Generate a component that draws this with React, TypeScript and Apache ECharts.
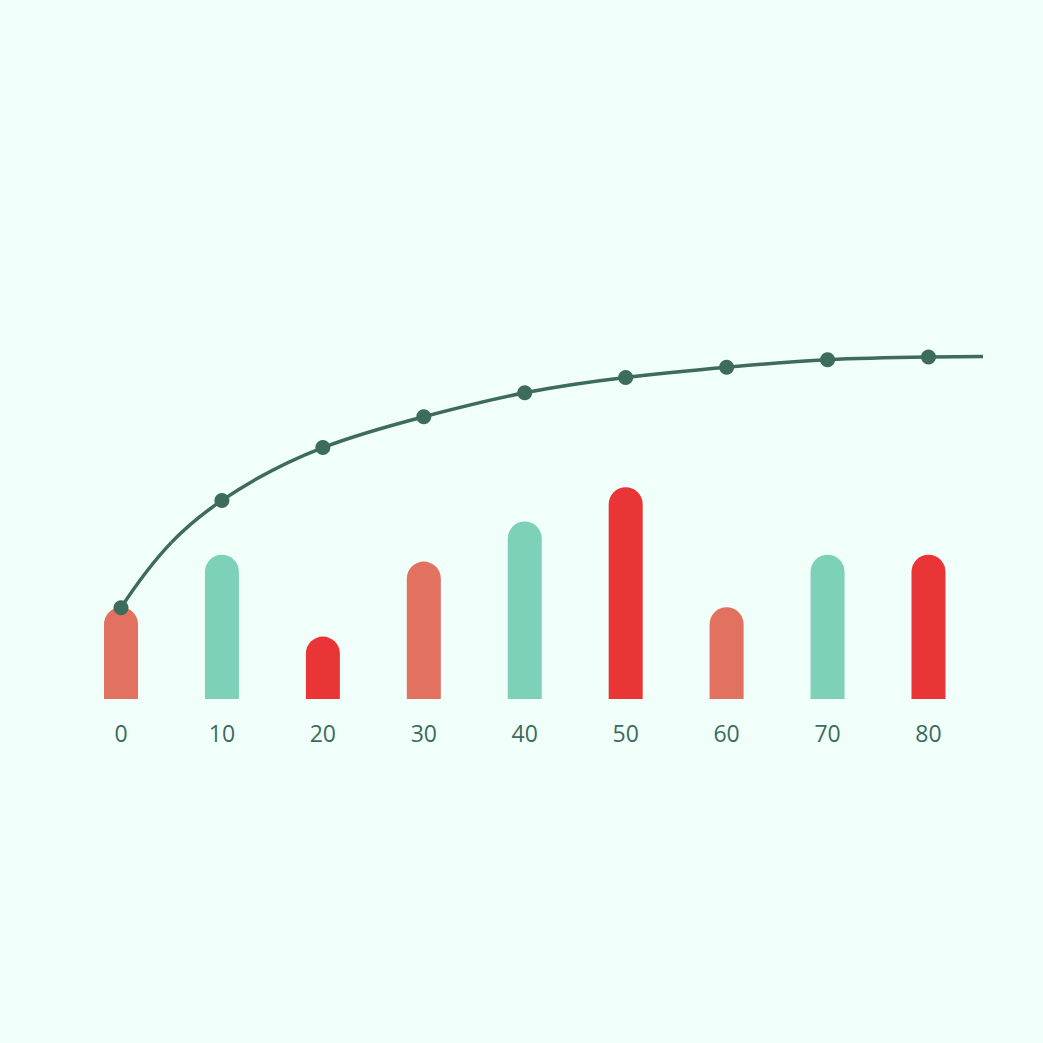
import React, { useEffect, useRef } from 'react';
import * as echarts from 'echarts';

// x positions of the bars / markers
const xValues = [0, 10, 20, 30, 40, 50, 60, 70, 80];
const barValues = [15.3, 24.05, 10.4, 22.9, 29.6, 35.3, 15.3, 24.05, 24.05];
const barColors = ['#e27160', '#7dd1b8', '#e93535'];
const lineValues = [15.2, 33.1, 41.9, 47.05, 51.05, 53.6, 55.3, 56.55, 57.0];
// extra points read off the curve where it has no marker
const curveExtraX = [5, 85.4];
const curveExtraY = [26.1, 57.1];

const BG = '#f0fff9';
const DARK = '#3d6b5c';

// C2 cubic spline through pixel points (end slopes from the end parabolas)
function splineSegments(pts: number[][]) {
  const n = pts.length;
  const h: number[] = [];
  const s: number[] = [];
  for (let i = 0; i < n - 1; i++) {
    h.push(pts[i + 1][0] - pts[i][0]);
    s.push((pts[i + 1][1] - pts[i][1]) / h[i]);
  }
  const m: number[] = new Array(n).fill(0);
  m[0] = s[0] + ((s[0] - s[1]) * h[0]) / (h[0] + h[1]);
  m[n - 1] = s[n - 2] + ((s[n - 2] - s[n - 3]) * h[n - 2]) / (h[n - 2] + h[n - 3]);

  // tridiagonal system for m[1..n-2]
  const a: number[] = [];
  const b: number[] = [];
  const c: number[] = [];
  const d: number[] = [];
  for (let i = 1; i < n - 1; i++) {
    a.push(h[i]);
    b.push(2 * (h[i - 1] + h[i]));
    c.push(h[i - 1]);
    d.push(3 * (h[i] * s[i - 1] + h[i - 1] * s[i]));
  }
  const k = d.length;
  d[0] -= a[0] * m[0];
  d[k - 1] -= c[k - 1] * m[n - 1];
  for (let i = 1; i < k; i++) {
    const w = a[i] / b[i - 1];
    b[i] -= w * c[i - 1];
    d[i] -= w * d[i - 1];
  }
  const sol: number[] = new Array(k).fill(0);
  sol[k - 1] = d[k - 1] / b[k - 1];
  for (let i = k - 2; i >= 0; i--) {
    sol[i] = (d[i] - c[i] * sol[i + 1]) / b[i];
  }
  for (let i = 0; i < k; i++) m[i + 1] = sol[i];

  const segs = [];
  for (let i = 0; i < n - 1; i++) {
    const dx = h[i] / 3;
    segs.push({
      x1: pts[i][0],
      y1: pts[i][1],
      cpx1: pts[i][0] + dx,
      cpy1: pts[i][1] + dx * m[i],
      cpx2: pts[i + 1][0] - dx,
      cpy2: pts[i + 1][1] - dx * m[i + 1],
      x2: pts[i + 1][0],
      y2: pts[i + 1][1],
    });
  }
  return segs;
}

function App() {
  const chartRef = useRef<HTMLDivElement>(null);

  useEffect(() => {
    if (!chartRef.current) return undefined;

    const barData = xValues.map((x, i) => ({
      value: [x, barValues[i]],
      itemStyle: { color: barColors[i % barColors.length] },
    }));
    const markerData = xValues.map((x, i) => [x, lineValues[i]]);
    const curvePoints = markerData
      .concat(curveExtraX.map((x, i) => [x, curveExtraY[i]]))
      .sort((a, b) => a[0] - b[0]);

    const option = {
      animation: false,
      backgroundColor: BG,
      grid: { left: 121, right: 60, top: 99, bottom: 344 },
      xAxis: {
        type: 'value',
        min: 0,
        max: 85.4,
        interval: 10,
        axisLine: { show: false },
        axisTick: { show: false },
        splitLine: { show: false },
        axisLabel: {
          showMaxLabel: false,
          color: DARK,
          fontFamily: 'Open Sans',
          fontSize: 23,
          margin: 22,
        },
      },
      yAxis: {
        type: 'value',
        min: 0,
        max: 100,
        show: false,
      },
      series: [
        {
          type: 'bar',
          data: barData,
          barWidth: 34,
          itemStyle: { borderRadius: [17, 17, 0, 0] },
        },
        {
          type: 'custom',
          silent: true,
          z: 3,
          data: [[0, 0]],
          renderItem: (params: any, api: any) => {
            const pts = curvePoints.map((p) => api.coord(p));
            return {
              type: 'group',
              children: splineSegments(pts).map((seg) => ({
                type: 'bezierCurve',
                shape: seg,
                style: { stroke: DARK, lineWidth: 3.5, fill: 'none' },
              })),
            };
          },
        },
        {
          type: 'scatter',
          z: 4,
          data: markerData,
          symbol: 'circle',
          symbolSize: 15,
          itemStyle: { color: DARK, opacity: 1 },
        },
      ],
    };

    const myChart = echarts.init(chartRef.current, null, { renderer: 'svg' });
    myChart.setOption(option);

    return () => {
      myChart.dispose();
    };
  }, []);

  return (
    <div
      ref={chartRef}
      style={{
        position: 'fixed',
        left: 0,
        top: 0,
        width: '1043px',
        height: '1043px',
      }}
    />
  );
}

export default App;
